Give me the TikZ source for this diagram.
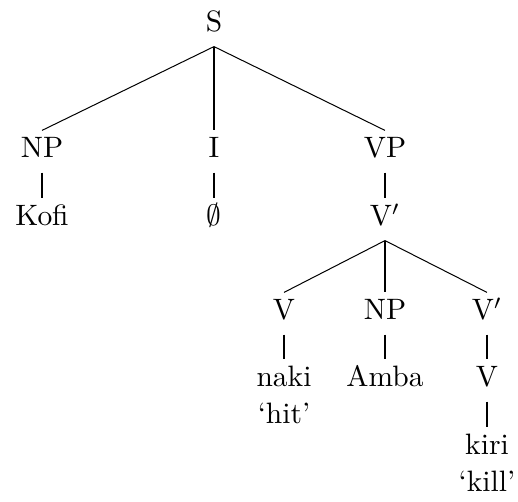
\documentclass[tikz,border=0pt]{standalone}
\usepackage{tikz}
\usetikzlibrary{calc}

\begin{document}
\begin{tikzpicture}[x=0.339pt,y=-0.339pt,
    cat/.style={anchor=base,inner ysep=1pt,inner xsep=0pt,text height=8.15pt,text depth=3.75pt},
    branch/.style={black,line width=0.34pt}]
\useasboundingbox (0,0) rectangle (518,502);
% top of the tree
\node[cat] (s) at (214,32) {S};
\node[cat] (np) at (42,158) {NP};
\node[cat] (i) at (214,158) {I};
\node[cat] (vp) at (385,158) {VP};
\node[cat] (kofi) at (42,226) {Kofi};
\node[cat] (empty) at (214,226) {$\emptyset$};
\node[cat] (vbar) at (385,226) {V$'$};
% verb phrase
\node[cat] (v) at (284,320) {V};
\node[cat] (npobj) at (385,320) {NP};
\node[cat] (vbarb) at (487,320) {V$'$};
\node[cat] (naki) at (284,387) {naki};
\node[cat] (hit) at (284,424) {`hit'};
\node[cat] (amba) at (385,387) {Amba};
\node[cat] (vb) at (487,387) {V};
\node[cat] (kiri) at (487,455) {kiri};
\node[cat] (kill) at (487,492) {`kill'};
% branches
\foreach \a/\b in {s/np, s/i, s/vp, np/kofi, i/empty, vp/vbar,
    vbar/v, vbar/npobj, vbar/vbarb, v/naki, npobj/amba, vbarb/vb, vb/kiri}
    \draw[branch] (\a.south) -- (\b.north);
\end{tikzpicture}
\end{document}
